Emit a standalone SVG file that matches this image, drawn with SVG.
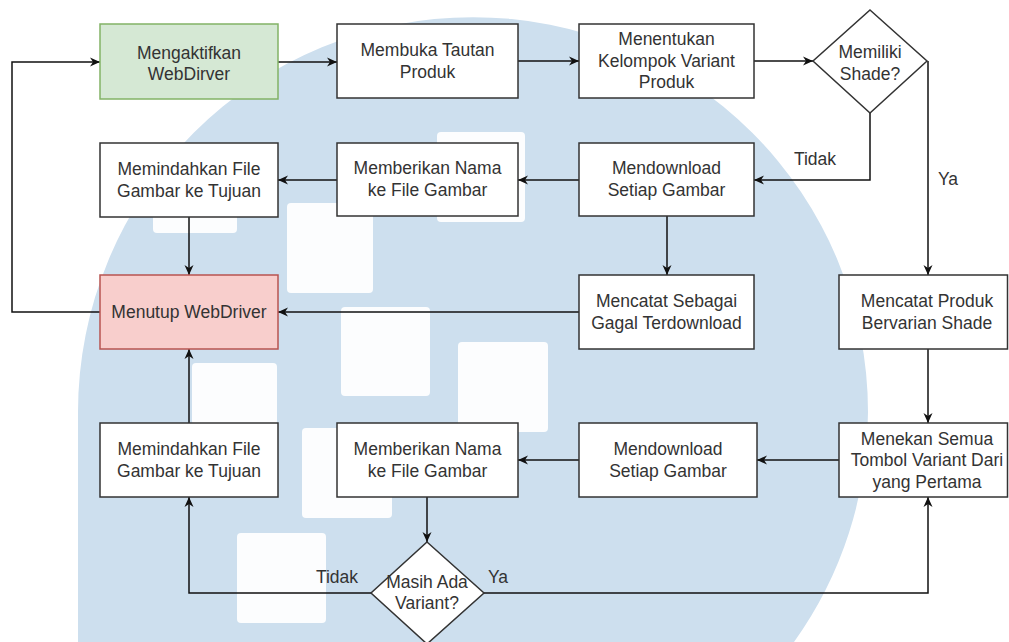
<svg xmlns="http://www.w3.org/2000/svg" width="1009" height="642" viewBox="0 0 1009 642">
  <style>
    .box { fill: #ffffff; stroke: #333333; stroke-width: 1.5; }
    .start { fill: #d5e8d4; stroke: #82b366; stroke-width: 1.5; }
    .end { fill: #f8cecc; stroke: #b85450; stroke-width: 1.5; }
    .lbl { font-family: "Liberation Sans", Arial, sans-serif; font-size: 17.5px; fill: #333333; text-anchor: middle; }
    .edge { fill: none; stroke: #111111; stroke-width: 1.5; }
    .wm { fill: #cddfee; }
    .sq { fill: #fcfdfe; }
  </style>
  <defs>
    <marker id="arrow" markerUnits="userSpaceOnUse" markerWidth="12" markerHeight="12" refX="10" refY="5" orient="auto" viewBox="0 0 12 12">
      <path d="M0,0.5 L10,5 L0,9.5 L3,5 Z" fill="#111111"/>
    </marker>
  </defs>

  <rect width="1009" height="642" fill="#ffffff"/>

  <g id="watermark">
    <path class="wm" d="M78,412 A395,395 0 0 1 868,412 A395,395 0 0 1 794,642 L78,642 Z"/>
    <rect class="sq" x="287" y="203" width="86" height="90" rx="4"/>
    <rect class="sq" x="341" y="307" width="89" height="89" rx="4"/>
    <rect class="sq" x="153" y="150" width="84" height="83" rx="4"/>
    <rect class="sq" x="458" y="342" width="90" height="90" rx="4"/>
    <rect class="sq" x="437" y="132" width="88" height="90" rx="4"/>
    <rect class="sq" x="302" y="428" width="90" height="90" rx="4"/>
    <rect class="sq" x="237" y="533" width="89" height="90" rx="4"/>
    <rect class="sq" x="192" y="363" width="85" height="62" rx="4"/>
  </g>

  <g id="connectors">
    <path class="edge" d="M278,62 H337" marker-end="url(#arrow)"/>
    <path class="edge" d="M518,61 H579" marker-end="url(#arrow)"/>
    <path class="edge" d="M754,61 H813" marker-end="url(#arrow)"/>
    <path class="edge" d="M870,113 V180 H754" marker-end="url(#arrow)"/>
    <path class="edge" d="M928,61 V275" marker-end="url(#arrow)"/>
    <path class="edge" d="M579,180 H518" marker-end="url(#arrow)"/>
    <path class="edge" d="M337,180 H278" marker-end="url(#arrow)"/>
    <path class="edge" d="M189,217 V275" marker-end="url(#arrow)"/>
    <path class="edge" d="M667,216 V275" marker-end="url(#arrow)"/>
    <path class="edge" d="M579,312 H278" marker-end="url(#arrow)"/>
    <path class="edge" d="M100,312 H12 V62 H100" marker-end="url(#arrow)"/>
    <path class="edge" d="M928,349 V423" marker-end="url(#arrow)"/>
    <path class="edge" d="M839,460 H757" marker-end="url(#arrow)"/>
    <path class="edge" d="M579,460 H518" marker-end="url(#arrow)"/>
    <path class="edge" d="M427,497 V542" marker-end="url(#arrow)"/>
    <path class="edge" d="M371,593 H189 V497" marker-end="url(#arrow)"/>
    <path class="edge" d="M189,423 V349" marker-end="url(#arrow)"/>
    <path class="edge" d="M484,593 H928 V497" marker-end="url(#arrow)"/>
    <text class="lbl" x="815" y="165">Tidak</text>
    <text class="lbl" x="948" y="185">Ya</text>
    <text class="lbl" x="337" y="583">Tidak</text>
    <text class="lbl" x="498" y="583">Ya</text>
  </g>

  <g id="n-aktifkan">
    <rect class="start" x="100" y="24" width="178" height="75"/>
    <text class="lbl" x="189" y="59">Mengaktifkan</text>
    <text class="lbl" x="189" y="80">WebDirver</text>
  </g>
  <g id="n-membuka">
    <rect class="box" x="337" y="24" width="181" height="74"/>
    <text class="lbl" x="427.5" y="56">Membuka Tautan</text>
    <text class="lbl" x="427.5" y="78">Produk</text>
  </g>
  <g id="n-menentukan">
    <rect class="box" x="579" y="24" width="175" height="74"/>
    <text class="lbl" x="666.5" y="45">Menentukan</text>
    <text class="lbl" x="666.5" y="67">Kelompok Variant</text>
    <text class="lbl" x="666.5" y="88">Produk</text>
  </g>
  <g id="n-shade">
    <path class="box" d="M870,10 L927,61 L870,113 L813,61 Z"/>
    <text class="lbl" x="870" y="58">Memiliki</text>
    <text class="lbl" x="870" y="80">Shade?</text>
  </g>
  <g id="n-pindah1">
    <rect class="box" x="100" y="143" width="178" height="74"/>
    <text class="lbl" x="189" y="175">Memindahkan File</text>
    <text class="lbl" x="189" y="197">Gambar ke Tujuan</text>
  </g>
  <g id="n-nama1">
    <rect class="box" x="337" y="143" width="181" height="73"/>
    <text class="lbl" x="427.5" y="174">Memberikan Nama</text>
    <text class="lbl" x="427.5" y="196">ke File Gambar</text>
  </g>
  <g id="n-download1">
    <rect class="box" x="579" y="143" width="175" height="73"/>
    <text class="lbl" x="666.5" y="174">Mendownload</text>
    <text class="lbl" x="666.5" y="196">Setiap Gambar</text>
  </g>
  <g id="n-tutup">
    <rect class="end" x="100" y="275" width="178" height="74"/>
    <text class="lbl" x="189" y="318">Menutup WebDriver</text>
  </g>
  <g id="n-gagal">
    <rect class="box" x="579" y="275" width="175" height="74"/>
    <text class="lbl" x="666.5" y="307">Mencatat Sebagai</text>
    <text class="lbl" x="666.5" y="329">Gagal Terdownload</text>
  </g>
  <g id="n-catatshade">
    <rect class="box" x="839" y="275" width="168.5" height="74"/>
    <text class="lbl" x="927" y="307">Mencatat Produk</text>
    <text class="lbl" x="927" y="329">Bervarian Shade</text>
  </g>
  <g id="n-pindah2">
    <rect class="box" x="100" y="423" width="178" height="74"/>
    <text class="lbl" x="189" y="455">Memindahkan File</text>
    <text class="lbl" x="189" y="477">Gambar ke Tujuan</text>
  </g>
  <g id="n-nama2">
    <rect class="box" x="337" y="423" width="181" height="74"/>
    <text class="lbl" x="427.5" y="455">Memberikan Nama</text>
    <text class="lbl" x="427.5" y="477">ke File Gambar</text>
  </g>
  <g id="n-download2">
    <rect class="box" x="579" y="423" width="178" height="74"/>
    <text class="lbl" x="668" y="455">Mendownload</text>
    <text class="lbl" x="668" y="477">Setiap Gambar</text>
  </g>
  <g id="n-tekan">
    <rect class="box" x="839" y="423" width="168.5" height="74"/>
    <text class="lbl" x="927" y="445">Menekan Semua</text>
    <text class="lbl" x="927" y="466">Tombol Variant Dari</text>
    <text class="lbl" x="927" y="488">yang Pertama</text>
  </g>
  <g id="n-masih">
    <path class="box" d="M427,542 L484,593 L427,644 L371,593 Z"/>
    <text class="lbl" x="427" y="588">Masih Ada</text>
    <text class="lbl" x="427" y="609">Variant?</text>
  </g>
</svg>
